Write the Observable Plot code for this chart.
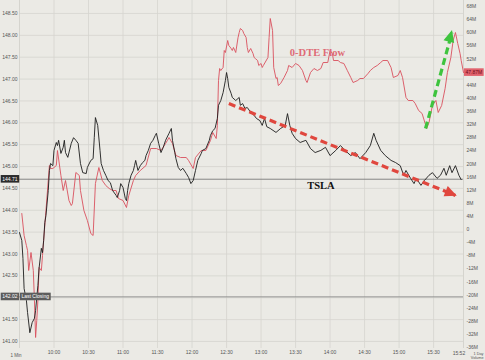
<!DOCTYPE html>
<html><head><meta charset="utf-8">
<script src="https://cdn.jsdelivr.net/npm/d3@7"></script>
<script src="https://cdn.jsdelivr.net/npm/@observablehq/plot@0.6"></script>
<style>
body{margin:0;background:#ebeae5;}
#chart{width:485px;height:360px;overflow:hidden;}
</style>
</head><body><div id="chart"></div>
<script>
// ---- data ----
const tslaTime = ["9:30","9:32","9:33","9:34","9:36","9:37","9:39","9:41","9:43","9:44","9:46","9:47","9:49","9:50","9:51","9:52","9:53","9:55","9:56","9:57","9:59",
"10:00","10:02","10:03","10:04","10:06","10:08","10:09","10:10","10:12","10:15","10:17","10:19","10:21","10:23","10:25","10:28","10:29","10:32","10:34","10:35","10:36","10:38","10:40","10:41","10:43","10:45","10:47","10:49","10:51","10:54","10:55","10:57","10:58",
"11:00","11:02","11:03","11:04","11:05","11:07","11:09","11:10","11:11","11:13","11:15","11:17","11:19","11:20","11:22","11:24","11:26","11:28","11:29","11:31","11:33","11:35","11:37","11:40","11:42","11:43","11:45","11:46","11:48","11:50","11:52","11:55","11:57","11:59",
"12:01","12:03","12:05","12:08","12:09","12:12","12:15","12:16","12:18","12:20","12:22","12:23","12:25","12:27","12:29","12:30","12:31","12:32","12:34","12:35","12:38","12:41","12:42","12:44","12:46","12:48","12:51","12:54","12:56","12:59",
"13:01","13:03","13:05","13:08","13:13","13:17","13:21","13:23","13:25","13:27","13:30","13:34","13:39","13:43","13:47","13:52","13:56",
"14:00","14:05","14:09","14:13","14:18","14:22","14:26","14:31","14:35","14:38","14:40","14:44","14:48","14:53","14:57",
"15:01","15:04","15:06","15:10","15:13","15:15","15:19","15:22","15:26","15:29","15:33","15:36","15:39","15:41","15:44","15:46","15:49","15:52","15:54"];
const tslaPrice = [143.49,143.31,142.90,142.21,141.94,141.66,141.20,141.43,141.53,141.71,142.28,142.67,143.13,143.03,143.31,143.72,143.88,144.45,144.91,145.07,145.02,
145.37,145.55,145.48,145.60,145.30,145.44,145.60,145.32,145.21,145.53,145.66,145.60,145.53,145.07,144.86,144.84,144.98,145.14,145.18,145.66,146.12,145.94,145.37,145.07,144.91,144.80,144.68,144.63,144.45,144.34,144.29,144.45,144.61,
144.52,144.27,144.22,144.45,144.61,144.80,144.91,145.02,145.14,144.91,145.02,145.09,145.14,145.25,145.37,145.53,145.60,145.71,145.76,145.53,145.32,145.44,145.60,145.76,145.87,145.60,145.32,145.18,144.98,144.91,144.96,144.84,144.75,144.61,
144.68,144.91,145.14,145.30,145.37,145.41,145.60,145.71,145.82,145.87,146.10,146.40,146.51,146.69,146.97,147.15,147.01,146.81,146.67,146.58,146.51,146.58,146.40,146.44,146.33,146.35,146.24,146.17,146.10,146.05,
145.94,146.10,145.91,145.87,145.78,145.87,145.94,146.21,145.94,145.76,145.64,145.55,145.60,145.41,145.32,145.37,145.44,
145.25,145.37,145.48,145.37,145.25,145.32,145.18,145.32,145.48,145.76,145.60,145.37,145.25,145.14,145.09,
145.02,144.80,144.91,144.73,144.61,144.73,144.57,144.68,144.80,144.86,144.73,144.80,144.96,144.80,145.02,144.86,145.02,144.80,144.70];

const flowTime = ["9:32","9:34","9:36","9:37","9:38","9:40","9:42","9:43","9:44","9:45","9:46","9:47","9:49","9:50","9:53","9:56","9:57","9:59",
"10:02","10:03","10:06","10:08","10:10","10:13","10:15","10:16","10:19","10:22","10:23","10:26","10:29","10:32","10:34","10:36","10:39","10:42","10:45","10:48","10:51","10:54","10:56",
"11:00","11:03","11:05","11:09","11:11","11:15","11:20","11:24","11:29","11:33","11:37","11:40","11:43","11:46","11:50","11:55","11:57",
"12:01","12:03","12:08","12:12","12:16","12:18","12:21","12:22","12:23","12:24","12:25","12:27","12:28","12:29","12:31","12:32","12:34","12:35","12:36","12:38","12:40","12:41","12:42","12:44","12:45","12:47","12:48","12:49","12:51","12:53","12:54","12:55","12:57","12:58",
"13:00","13:01","13:02","13:06","13:07","13:08","13:10","13:11","13:13","13:14","13:15","13:17","13:20","13:23","13:24","13:27","13:30","13:33","13:36","13:39","13:40","13:43","13:46","13:49","13:52","13:54","13:58",
"14:00","14:02","14:03","14:07","14:09","14:12","14:15","14:18","14:20","14:24","14:26","14:29","14:33","14:35","14:38","14:41","14:44","14:46","14:50","14:53","14:55","14:59",
"15:01","15:03","15:06","15:08","15:12","15:14","15:17","15:20","15:24","15:26","15:29","15:32","15:34","15:37","15:40","15:42","15:45","15:47","15:49","15:51","15:53","15:54","15:56"];
const flowValue = [4.87,-1.84,-4.89,-6.41,-12.51,-7.02,-12.51,-21.66,-32.94,-27.76,-21.66,-11.60,-12.51,-7.94,5.79,19.51,18.60,18.60,
19.51,24.08,16.46,11.89,14.93,8.84,7.31,7.92,17.38,16.46,11.89,5.79,2.74,-1.23,-1.84,14.02,18.90,14.93,13.41,12.50,11.89,11.89,9.45,
8.84,6.70,10.36,14.93,16.46,17.99,19.51,24.69,24.69,24.08,26.22,28.05,26.22,22.56,21.95,21.95,21.03,
18.60,21.95,24.08,24.08,27.13,29.57,27.74,31.71,45.43,49.09,48.48,49.40,54.58,53.97,57.63,56.11,55.19,54.58,55.50,53.97,58.55,60.07,61.29,60.68,59.77,58.55,55.50,53.97,55.19,53.67,52.45,52.14,51.53,50.01,
50.62,49.40,50.01,52.45,58.55,64.34,60.68,49.40,46.04,46.35,43.91,44.52,46.35,48.48,50.01,49.40,50.62,50.01,48.48,45.43,44.82,47.87,49.09,48.48,49.09,50.92,50.92,
54.58,53.67,51.53,51.53,50.92,50.62,48.48,46.35,44.82,45.43,46.04,46.04,47.57,48.48,49.40,50.01,50.92,51.53,51.53,49.40,46.35,46.96,
48.48,46.35,40.25,39.33,39.33,38.42,36.28,35.37,30.79,32.62,37.81,39.33,35.67,37.81,42.99,47.87,52.45,57.63,60.07,56.72,53.67,51.53,47.87];

const priceTicks = [141.0,141.5,142.0,142.5,143.0,143.5,144.0,144.5,145.0,145.5,146.0,146.5,147.0,147.5,148.0,148.5];
const flowTicks = [-36,-32,-28,-24,-20,-16,-12,-8,-4,0,4,8,12,16,20,24,28,32,36,40,44,48,52,56,60,64,68];
const timeTicks = ["10:00","10:30","11:00","11:30","12:00","12:30","13:00","13:30","14:00","14:30","15:00","15:30"];
const lastTimeLabel = "15:52";
const prevClose = 142.02;
const lastPrice = 144.71;
const lastFlow = 47.87;

// annotation arrows (price arrow on TSLA scale, flow arrow on flow scale)
const trendArrow = {t1:"12:32", v1:146.44, t2:"15:49", v2:144.34};
const flowArrow = {t1:"15:23", f1:30.79, t2:"15:46", f2:60.07};
const flowLabel = {t:"13:49", f:53.97, text:"0-DTE Flow"};
const tslaLabel = {t:"13:52", v:144.57, text:"TSLA"};

// ---- helpers ----
const toMin = s => { const [h, m] = s.split(":").map(Number); return h * 60 + m; };
const fmtMin = m => `${Math.floor(m / 60)}:${String(m % 60).padStart(2, "0")}`;
// dual axis: map flow (M) onto the price axis
const FLOW_TOP = 69.83, PRICE_TOP = 148.797, K = 0.074985;
const flowToY = f => PRICE_TOP - (FLOW_TOP - f) * K;
const yToFlow = y => FLOW_TOP - (PRICE_TOP - y) / K;

const tsla = tslaTime.map((t, i) => ({t: toMin(t), v: tslaPrice[i]}));
const flow = flowTime.map((t, i) => ({t: toMin(t), v: flowToY(flowValue[i])}));
// tick hidden behind the current-flow tag
const shownFlowTicks = flowTicks.filter(f => Math.abs(f - lastFlow) > 2);

const arrowsData = [
  {x1: toMin(trendArrow.t1), y1: trendArrow.v1, x2: toMin(trendArrow.t2), y2: trendArrow.v2, c: "#e0473e"},
  {x1: toMin(flowArrow.t1), y1: flowToY(flowArrow.f1), x2: toMin(flowArrow.t2), y2: flowToY(flowArrow.f2), c: "#3ec43e"}
];

const grid = "#d5d4cf";
const plot = Plot.plot({
  width: 485, height: 360,
  marginLeft: 19, marginRight: 22, marginTop: 0, marginBottom: 12,
  style: {background: "transparent", fontFamily: "'Liberation Sans', Arial, sans-serif"},
  x: {domain: [570, 956]},
  y: {domain: [140.839, 148.797]},
  marks: [
    Plot.gridX(timeTicks.map(toMin), {stroke: grid, strokeOpacity: 1, strokeWidth: 0.8}),
    Plot.gridY(priceTicks, {stroke: grid, strokeOpacity: 1, strokeWidth: 0.8}),
    Plot.ruleX([570, 956], {stroke: "#cfcec8", strokeWidth: 0.8}),
    Plot.ruleY([prevClose], {stroke: "#8c8c8c", strokeWidth: 0.9}),
    Plot.ruleY([lastPrice], {stroke: "#7a7a7a", strokeWidth: 0.9}),
    Plot.axisY(priceTicks, {anchor: "left", tickSize: 0, tickPadding: 2, fontSize: 5, fill: "#555", tickFormat: d => d.toFixed(2), label: null}),
    Plot.axisY(shownFlowTicks.map(flowToY), {anchor: "right", tickSize: 0, tickPadding: 3, fontSize: 5, fill: "#555",
      tickFormat: d => { const f = Math.round(yToFlow(d)); return f === 0 ? "0" : f + "M"; }, label: null}),
    Plot.axisX(timeTicks.map(toMin), {anchor: "bottom", tickSize: 0, tickPadding: 2, fontSize: 5, fill: "#555", tickFormat: fmtMin, label: null}),
    Plot.text([lastTimeLabel], {x: d => toMin(d), frameAnchor: "bottom", dy: 6, fontSize: 5, fill: "#555", text: d => d}),
    Plot.text(["1 Day"], {frameAnchor: "bottom-right", dx: 20, dy: 6, textAnchor: "end", fontSize: 3.8, fill: "#555", text: d => d}),
    Plot.text(["Volume"], {frameAnchor: "bottom-right", dx: 20, dy: 10, textAnchor: "end", fontSize: 3.8, fill: "#555", text: d => d}),
    Plot.text(["1 Min"], {frameAnchor: "bottom-left", dx: -9, dy: 8, fontSize: 4.5, fill: "#555", text: d => d}),
    Plot.line(flow, {x: "t", y: "v", stroke: "#d9505d", strokeWidth: 0.9}),
    Plot.line(tsla, {x: "t", y: "v", stroke: "#1c1c1c", strokeWidth: 0.9}),
    Plot.link(arrowsData, {x1: "x1", y1: "y1", x2: "x2", y2: "y2", stroke: "c", strokeWidth: 3.2, strokeDasharray: "7,4"}),
    Plot.text([flowLabel], {x: d => toMin(d.t), y: d => flowToY(d.f), text: "text", fontFamily: "'Liberation Serif', serif", fontWeight: "bold", fontSize: 10.5, fill: "#de6b76"}),
    Plot.text([tslaLabel], {x: d => toMin(d.t), y: "v", text: "text", fontFamily: "'Liberation Serif', serif", fontWeight: "bold", fontSize: 10.5, fill: "#111"}),
    Plot.text([lastPrice], {y: d => d, frameAnchor: "left", textAnchor: "end", dx: -2, fontSize: 5, fill: "#fff", text: d => d.toFixed(2), className: "box-dark"}),
    Plot.text([prevClose], {y: d => d, frameAnchor: "left", textAnchor: "end", dx: -2, fontSize: 5, fill: "#fff", text: d => d.toFixed(2), className: "box-gray"}),
    Plot.text(["Last Closing"], {y: prevClose, frameAnchor: "left", textAnchor: "start", dx: 2, fontSize: 5, fill: "#fff", text: d => d, className: "box-gray"}),
    Plot.text([lastFlow], {y: d => flowToY(d), frameAnchor: "right", textAnchor: "start", dx: 2, fontSize: 5, fill: "#6e0d18", text: d => d.toFixed(2) + "M", className: "box-red"})
  ]
});
document.getElementById("chart").appendChild(plot);

// label boxes behind the value tags
const svg = d3.select(plot);
[["box-dark", "#2b2b2b"], ["box-gray", "#5c5c5c"], ["box-red", "#e0616c"]].forEach(([cls, bg]) => {
  svg.selectAll(`.${cls} text`).each(function () {
    const b = this.getBBox();
    const r = document.createElementNS("http://www.w3.org/2000/svg", "rect");
    r.setAttribute("x", b.x - 1.5); r.setAttribute("y", b.y - 0.8);
    r.setAttribute("width", b.width + 3); r.setAttribute("height", b.height + 1.6);
    r.setAttribute("fill", bg);
    const tr = this.getAttribute("transform"); if (tr) r.setAttribute("transform", tr);
    this.parentNode.insertBefore(r, this);
  });
});

// filled arrowheads at the tips, positioned through the plot's scales
const sx = plot.scale("x"), sy = plot.scale("y");
arrowsData.forEach(a => {
  const X1 = sx.apply(a.x1), Y1 = sy.apply(a.y1), X2 = sx.apply(a.x2), Y2 = sy.apply(a.y2);
  const len = Math.hypot(X2 - X1, Y2 - Y1), ux = (X2 - X1) / len, uy = (Y2 - Y1) / len;
  const L = 10, W = 5.5, bx = X2 - L * ux, by = Y2 - L * uy;
  svg.append("polygon")
    .attr("points", [[X2 + 2 * ux, Y2 + 2 * uy], [bx - W * uy, by + W * ux], [bx + W * uy, by - W * ux]].map(p => p.join(",")).join(" "))
    .attr("fill", a.c);
});
</script>
</body></html>
